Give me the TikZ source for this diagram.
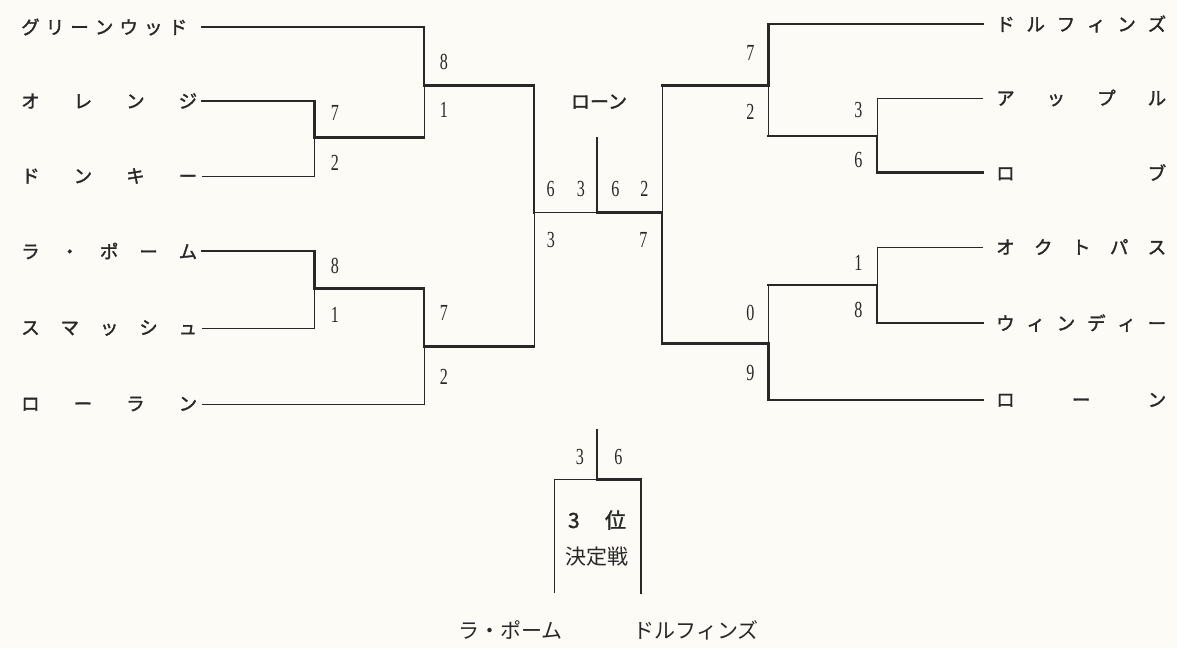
\documentclass[tikz,border=0pt]{standalone}
\usepackage{fontspec}
\newfontfamily\jp{Noto Sans CJK JP}
\newfontfamily\jpm[FakeBold=1.6]{Noto Sans CJK JP}
\newfontfamily\numf[FakeStretch=0.7]{Liberation Serif}
\definecolor{paper}{RGB}{252,251,245}
\definecolor{ink}{RGB}{40,40,40}
\begin{document}
\begin{tikzpicture}[x=1pt,y=-1pt,
  win/.style={draw=ink,line width=2.6pt,line cap=rect},
  lose/.style={draw=ink,line width=0.9pt},
  team/.style={inner sep=0pt,anchor=west,text=ink,font=\jpm\fontsize{18.5}{20}\selectfont},
  score/.style={inner sep=0pt,text=ink,font=\numf\fontsize{23}{25}\selectfont},
  lbl/.style={inner sep=0pt,text=ink,font=\jp\fontsize{19}{22}\selectfont},
  biglbl/.style={inner sep=0pt,text=ink,font=\jp\fontsize{21}{24}\selectfont}]
\fill[paper] (0,0) rectangle (1177,648);
\useasboundingbox (0,0) rectangle (1177,648);
% left team names
\node[team] (L1) at (21,27)  {\makebox[166pt]{グ\hfill リ\hfill ー\hfill ン\hfill ウ\hfill ッ\hfill ド}};
\node[team] (L2) at (21,101) {\makebox[176pt]{オ\hfill レ\hfill ン\hfill ジ}};
\node[team] (L3) at (21,176) {\makebox[176pt]{ド\hfill ン\hfill キ\hfill ー}};
\node[team] (L4) at (21,251) {\makebox[176pt]{ラ\hfill ・\hfill ポ\hfill ー\hfill ム}};
\node[team] (L5) at (21,328) {\makebox[176pt]{ス\hfill マ\hfill ッ\hfill シ\hfill ュ}};
\node[team] (L6) at (21,404) {\makebox[176pt]{ロ\hfill ー\hfill ラ\hfill ン}};
% right team names
\node[team] (R1) at (996,24)  {\makebox[170pt]{ド\hfill ル\hfill フ\hfill ィ\hfill ン\hfill ズ}};
\node[team] (R2) at (996,98)  {\makebox[170pt]{ア\hfill ッ\hfill プ\hfill ル}};
\node[team] (R3) at (996,172.5) {\makebox[170pt]{ロ\hfill ブ}};
\node[team] (R4) at (996,247) {\makebox[170pt]{オ\hfill ク\hfill ト\hfill パ\hfill ス}};
\node[team] (R5) at (996,323) {\makebox[170pt]{ウ\hfill ィ\hfill ン\hfill デ\hfill ィ\hfill ー}};
\node[team] (R6) at (996,400) {\makebox[170pt]{ロ\hfill ー\hfill ン}};
% bracket coordinates
\coordinate (l1) at (202,27);  \coordinate (l2) at (202,101); \coordinate (l3) at (202,176);
\coordinate (l4) at (202,251); \coordinate (l5) at (202,328); \coordinate (l6) at (202,404);
\coordinate (r1) at (983,24);  \coordinate (r2) at (983,98);  \coordinate (r3) at (983,172.5);
\coordinate (r4) at (983,247); \coordinate (r5) at (983,323); \coordinate (r6) at (983,400);
\coordinate (qa) at (314.6,137.3); \coordinate (qb) at (314.6,288.7);
\coordinate (sa) at (424,85.7);    \coordinate (sb) at (424,346.7);
\coordinate (qc) at (877,136);     \coordinate (qd) at (877,285);
\coordinate (sc) at (768.6,85.7);  \coordinate (sd) at (768.6,343.7);
\coordinate (fl) at (534,212.3); \coordinate (fc) at (597,212.3);
\coordinate (fr) at (662,212.3); \coordinate (ft) at (597,138.3);
% left bracket
\draw[win] (l1) -| (sa) -- (sa -| fl) -- (fl);
\draw[win] (l2) -| (qa) -- (qa -| sa);
\draw[lose] (qa -| sa) -- (sa);
\draw[lose] (l3) -| (qa);
\draw[win] (l4) -| (qb) -- (qb -| sb) -- (sb) -- (sb -| fl);
\draw[lose] (l5) -| (qb);
\draw[lose] (l6) -| (sb);
\draw[lose] (sb -| fl) -- (fl) -- (fc);
% final
\draw[win] (ft) -- (fc) -- (fr);
% right bracket
\draw[win] (r1) -| (sc) -- (sc -| fr);
\draw[lose] (sc -| fr) -- (fr);
\draw[lose] (r2) -| (qc);
\draw[win] (r3) -| (qc) -- (qc -| sc);
\draw[lose] (qc -| sc) -- (sc);
\draw[lose] (r4) -| (qd);
\draw[win] (r5) -| (qd) -- (qd -| sd);
\draw[lose] (qd -| sd) -- (sd);
\draw[win] (r6) -| (sd) -- (sd -| fr) -- (fr);
% third place
\coordinate (tt) at (597,430); \coordinate (tc) at (597,479.3);
\coordinate (tl) at (554,593); \coordinate (tr) at (641,593);
\draw[win] (tt) -- (tc) -| (tr);
\draw[lose] (tc) -| (tl);
% scores left
\node[score] (s1) at (444,62) {8};
\node[score] (s2) at (444,110) {1};
\node[score] (s3) at (335,113) {7};
\node[score] (s4) at (335,163) {2};
\node[score] (s5) at (335,266) {8};
\node[score] (s6) at (335,315) {1};
\node[score] (s7) at (444,313) {7};
\node[score] (s8) at (444,377) {2};
% scores centre
\node[score] (c1) at (550.7,189) {6};
\node[score] (c2) at (581,189) {3};
\node[score] (c3) at (615.5,189) {6};
\node[score] (c4) at (644.3,189) {2};
\node[score] (c5) at (551,240) {3};
\node[score] (c6) at (643.3,240) {7};
% scores right
\node[score] (t1) at (750.4,53.3) {7};
\node[score] (t2) at (750.4,111.7) {2};
\node[score] (t3) at (858.4,110) {3};
\node[score] (t4) at (858.4,160) {6};
\node[score] (t5) at (858.4,263.3) {1};
\node[score] (t6) at (858.4,310) {8};
\node[score] (t7) at (750.4,313.3) {0};
\node[score] (t8) at (750.4,373.3) {9};
% third place scores
\node[score] (u1) at (580,456.7) {3};
\node[score] (u2) at (618.3,456.7) {6};
% labels
\node[lbl] (champ) at (599,101.7) {\jpm ローン};
\node[biglbl] (third) at (597,520) {\makebox[58pt]{\jpm 3\hfill 位}};
\node[biglbl] (match) at (597,557) {決定戦};
\node[biglbl] (bl) at (510.5,630) {ラ・ポーム};
\node[biglbl] (br) at (696,630) {ドルフィンズ};
\end{tikzpicture}
\end{document}
